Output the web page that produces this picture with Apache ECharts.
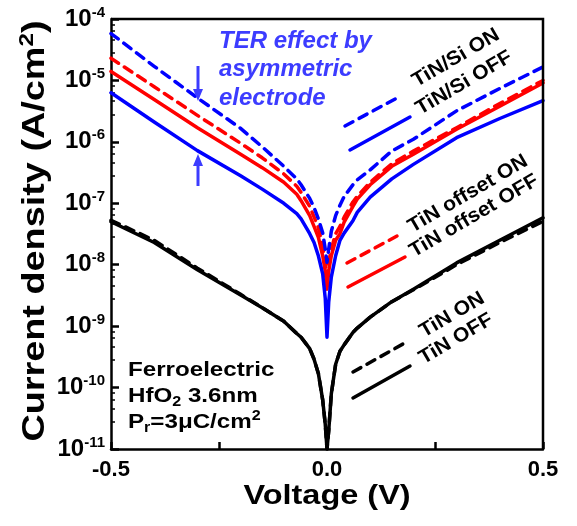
<!DOCTYPE html>
<html>
<head>
<meta charset="utf-8">
<script src="https://cdn.jsdelivr.net/npm/echarts@6/dist/echarts.min.js"></script>
<style>
  html, body { margin: 0; padding: 0; background: #fff; }
  #chart { width: 577px; height: 526px; }
</style>
</head>
<body>
<div id="chart"></div>
<script>
// voltage sample points (V)
const volts = [-0.5, -0.4, -0.3, -0.2, -0.15, -0.1, -0.07, -0.06, -0.04, -0.03, -0.02, -0.01, -0.004, 0,
  0.004, 0.01, 0.02, 0.03, 0.04, 0.06, 0.07, 0.1, 0.15, 0.2, 0.3, 0.4, 0.5];

// current density (A/cm2)
const tinOn = [5.3e-8, 2.5e-8, 8.8e-9, 3.3e-9, 2.0e-9, 1.2e-9, 7.6e-10, 6.6e-10, 4.3e-10, 2.9e-10, 1.7e-10, 6.3e-11, 2.5e-11, 1e-11,
  2.0e-11, 7.9e-11, 2.4e-10, 3.9e-10, 5.0e-10, 7.9e-10, 9.3e-10, 1.4e-9, 2.5e-9, 3.9e-9, 1.0e-8, 2.3e-8, 5.1e-8];
const tinOff = [5.0e-8, 2.3e-8, 8.3e-9, 3.2e-9, 2.0e-9, 1.2e-9, 7.6e-10, 6.6e-10, 4.3e-10, 2.9e-10, 1.7e-10, 6.3e-11, 2.5e-11, 1e-11,
  2.0e-11, 7.9e-11, 2.4e-10, 3.9e-10, 5.0e-10, 7.9e-10, 9.3e-10, 1.4e-9, 2.5e-9, 4.0e-9, 1.07e-8, 2.5e-8, 5.8e-8];
const offsetOn = [2.3e-5, 7.9e-6, 2.7e-6, 9.5e-7, 5.5e-7, 3.0e-7, 1.9e-7, 1.5e-7, 8.9e-8, 6.0e-8, 4.0e-8, 2.0e-8, 1.1e-8, 6.3e-9,
  1.1e-8, 1.8e-8, 3.2e-8, 4.2e-8, 6.0e-8, 1.05e-7, 1.3e-7, 2.2e-7, 4.4e-7, 7.1e-7, 1.7e-6, 4.2e-6, 1.0e-5];
const offsetOff = [1.4e-5, 4.9e-6, 1.7e-6, 6.3e-7, 3.8e-7, 2.2e-7, 1.4e-7, 1.1e-7, 6.3e-8, 4.2e-8, 2.8e-8, 1.4e-8, 7.9e-9, 4.0e-9,
  7.9e-9, 1.4e-8, 2.5e-8, 3.2e-8, 5.0e-8, 8.9e-8, 1.17e-7, 2.0e-7, 4.0e-7, 6.3e-7, 1.6e-6, 3.8e-6, 9.1e-6];
const siOn = [5.8e-5, 1.7e-5, 5.2e-6, 1.66e-6, 8.3e-7, 4.0e-7, 2.5e-7, 2.0e-7, 1.2e-7, 8.5e-8, 5.6e-8, 3.3e-8, 1.8e-8, 1.1e-8,
  1.8e-8, 3.5e-8, 6.3e-8, 9.3e-8, 1.3e-7, 2.0e-7, 2.4e-7, 3.5e-7, 7.1e-7, 1.1e-6, 3.2e-6, 7.4e-6, 1.66e-5];
const siOff = [6.3e-6, 2.1e-6, 7.2e-7, 2.8e-7, 1.7e-7, 1.0e-7, 6.8e-8, 5.6e-8, 3.2e-8, 2.3e-8, 1.4e-8, 7.1e-9, 2.8e-9, 6.6e-10,
  2.5e-9, 6.3e-9, 1.4e-8, 2.5e-8, 3.3e-8, 5.2e-8, 7.1e-8, 1.26e-7, 2.5e-7, 4.3e-7, 1.17e-6, 2.4e-6, 4.7e-6];

const xLabels = [-0.5, 0, 0.5];
const xTickVals = [-0.5, -0.25, 0, 0.25, 0.5];

const chart = echarts.init(document.getElementById('chart'));
const FONT = '"Liberation Sans", Arial, sans-serif';
const BLUE = '#0000ff', RED = '#ff0000', BLACK = '#000000', NOTE = '#3c3cff';
const PLOT = { left: 111, top: 19, width: 432, height: 430 };

function pairs(arr) {
  return volts.map(function (v, i) { return [v, arr[i]]; });
}

function curve(name, arr, color, dashed) {
  return {
    name: name,
    type: 'line',
    data: pairs(arr),
    showSymbol: false,
    smooth: false,
    lineStyle: {
      color: color,
      width: 3.5,
      type: dashed ? [9, 7] : 'solid',
      cap: 'round',
      join: 'round'
    }
  };
}

// legend sample segments drawn inside the plot
function seg(x1, y1, x2, y2, color, dashed) {
  return {
    type: 'line',
    shape: { x1: x1, y1: y1, x2: x2, y2: y2 },
    style: { stroke: color, lineWidth: 3.5, lineDash: dashed ? [9, 7] : null, lineCap: 'round' },
    z: 10
  };
}

function tag(text, x, y) {
  return {
    type: 'text', x: x, y: y, rotation: 0.53, z: 10, scaleX: 1.06,
    style: {
      text: text, font: 'bold 20px ' + FONT, fill: BLACK,
      align: 'center', verticalAlign: 'middle'
    }
  };
}

function arrow(x, yFrom, yTo) {
  const dir = yTo > yFrom ? 1 : -1;
  return [
    {
      type: 'line', z: 10,
      shape: { x1: x, y1: yFrom, x2: x, y2: yTo - dir * 8 },
      style: { stroke: NOTE, lineWidth: 3 }
    },
    {
      type: 'polygon', z: 10,
      shape: { points: [[x - 5, yTo - dir * 12], [x + 5, yTo - dir * 12], [x, yTo]] },
      style: { fill: NOTE }
    }
  ];
}

const option = {
  animation: false,
  grid: { left: PLOT.left, top: PLOT.top, width: PLOT.width, height: PLOT.height },
  xAxis: {
    type: 'value',
    min: -0.5, max: 0.5, interval: 0.25,
    axisLine: { show: true, onZero: false, lineStyle: { color: BLACK, width: 2.5 } },
    axisTick: { show: true, inside: true, length: 7, customValues: xTickVals, lineStyle: { color: BLACK, width: 2.5 } },
    splitLine: { show: false },
    axisLabel: {
      show: true,
      customValues: xLabels,
      margin: 10,
      color: BLACK,
      fontFamily: FONT, fontWeight: 'bold', fontSize: 22,
      formatter: function (v) { return v.toFixed(1); }
    }
  },
  yAxis: {
    type: 'log',
    min: 1e-11, max: 1e-4,
    axisLine: { show: true, onZero: false, lineStyle: { color: BLACK, width: 2.5 } },
    axisTick: { show: true, inside: true, length: 8, lineStyle: { color: BLACK, width: 2.5 } },
    minorTick: { show: true, length: 4, lineStyle: { color: BLACK, width: 1.5 } },
    splitLine: { show: false },
    axisLabel: {
      margin: 6,
      formatter: function (v) {
        const e = Math.round(Math.log10(v));
        return '{b|10}{s|' + e + '}';
      },
      rich: {
        b: { fontFamily: FONT, fontWeight: 'bold', fontSize: 24, color: BLACK, lineHeight: 28 },
        s: { fontFamily: FONT, fontWeight: 'bold', fontSize: 15, color: BLACK, verticalAlign: 'top', lineHeight: 28 }
      }
    }
  },
  series: [
    curve('TiN ON', tinOn, BLACK, true),
    curve('TiN OFF', tinOff, BLACK, false),
    curve('TiN offset ON', offsetOn, RED, true),
    curve('TiN offset OFF', offsetOff, RED, false),
    curve('TiN/Si ON', siOn, BLUE, true),
    curve('TiN/Si OFF', siOff, BLUE, false)
  ],
  graphic: [
    // plot frame (top and right edges)
    {
      type: 'polyline', z: 15, silent: true,
      shape: { points: [[PLOT.left, PLOT.top], [PLOT.left + PLOT.width, PLOT.top], [PLOT.left + PLOT.width, PLOT.top + PLOT.height]] },
      style: { fill: null, stroke: BLACK, lineWidth: 2.5 }
    },
    // axis titles
    {
      type: 'text', x: 327, y: 496, scaleX: 1.16,
      style: {
        text: 'Voltage (V)', font: 'bold 28px ' + FONT, fill: BLACK,
        align: 'center', verticalAlign: 'middle'
      }
    },
    {
      type: 'text', x: 35, y: 231, rotation: Math.PI / 2, scaleX: 1.22,
      style: {
        text: '{a|Current density (A/cm}{s|2}{a|)}',
        align: 'center', verticalAlign: 'middle',
        rich: {
          a: { font: 'bold 31px ' + FONT, fill: BLACK, lineHeight: 36 },
          s: { font: 'bold 20px ' + FONT, fill: BLACK, verticalAlign: 'top', lineHeight: 36 }
        }
      }
    },
    // legend segments and labels
    seg(345, 126, 397, 98, BLUE, true),
    seg(350, 150, 410, 117, BLUE, false),
    tag('TiN/Si ON', 456, 58),
    tag('TiN/Si OFF', 464, 83),
    seg(347, 263, 397, 236, RED, true),
    seg(348, 287, 405, 257, RED, false),
    tag('TiN offset ON', 468, 194),
    tag('TiN offset OFF', 474, 216),
    seg(353, 372, 403, 344, BLACK, true),
    seg(353, 398, 410, 366, BLACK, false),
    tag('TiN ON', 452, 315),
    tag('TiN OFF', 456, 339),
    // TER note
    {
      type: 'text', x: 219, y: 27, z: 10,
      style: {
        text: 'TER effect by\nasymmetric\nelectrode',
        font: 'italic bold 24px ' + FONT, fill: NOTE, lineHeight: 28.5,
        align: 'left', verticalAlign: 'top'
      }
    }
  ].concat(arrow(198, 66, 101), arrow(198, 186, 154), [
    // sample note
    {
      type: 'text', x: 128, y: 357, z: 10, scaleX: 1.15,
      style: {
        text: '{a|Ferroelectric}\n{a|HfO}{d|2}{a| 3.6nm}\n{a|P}{d|r}{a|=3μC/cm}{u|2}',
        align: 'left', verticalAlign: 'top',
        rich: {
          a: { font: 'bold 21px ' + FONT, fill: BLACK, lineHeight: 26 },
          d: { font: 'bold 14px ' + FONT, fill: BLACK, verticalAlign: 'bottom', lineHeight: 26 },
          u: { font: 'bold 14px ' + FONT, fill: BLACK, verticalAlign: 'top', lineHeight: 26 }
        }
      }
    }
  ])
};

chart.setOption(option);
</script>
</body>
</html>
